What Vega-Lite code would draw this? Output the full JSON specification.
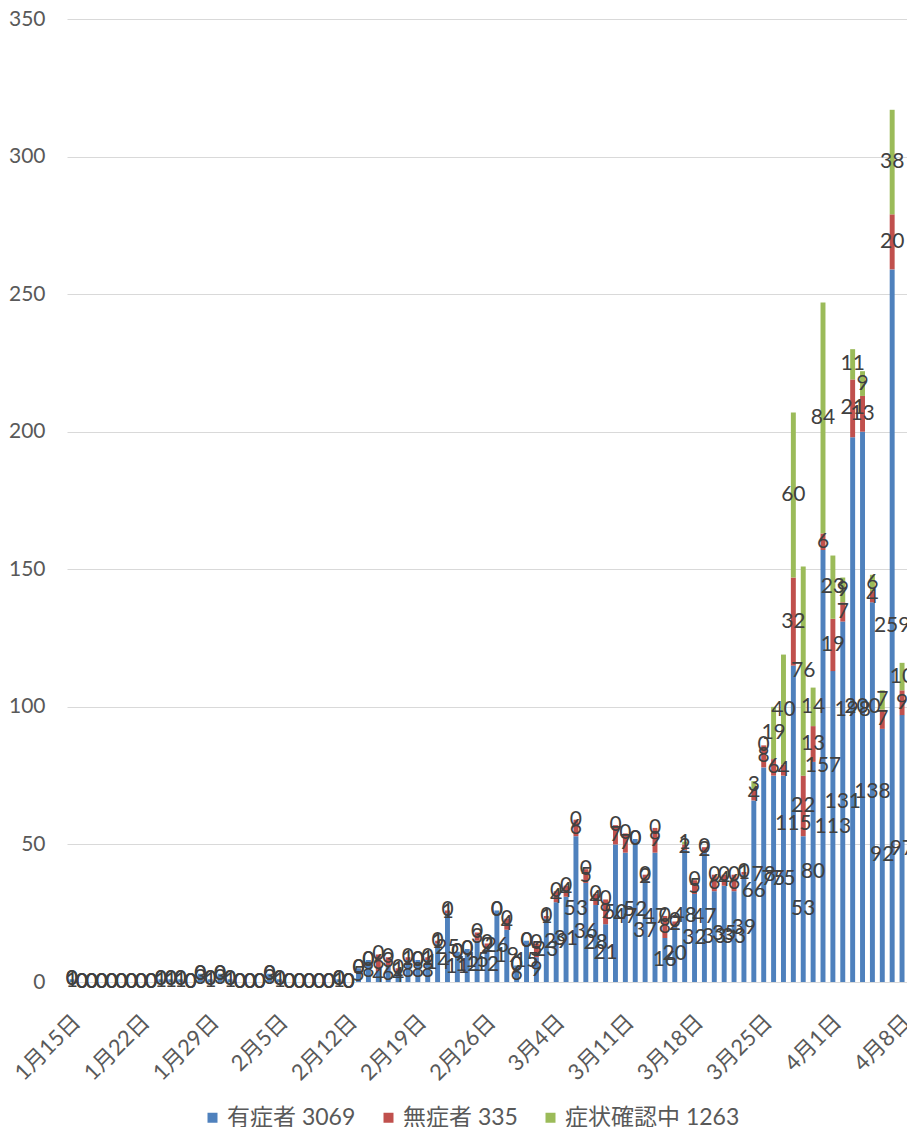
{
"$schema": "https://vega.github.io/schema/vega-lite/v6.json",
"width": 840, "height": 963,
"autosize": {"type": "none"},
"padding": {"left": 67, "top": 19, "right": 0, "bottom": 145},
"background": "white",
"config": {"view": {"stroke": null}, "font": "Lato, 'Noto Sans CJK JP'"},
"data": {"values": [
{"日付":"1月15日","有症者":1,"無症者":0,"症状確認中":0},
{"日付":"1月16日","有症者":0,"無症者":0,"症状確認中":0},
{"日付":"1月17日","有症者":0,"無症者":0,"症状確認中":0},
{"日付":"1月18日","有症者":0,"無症者":0,"症状確認中":0},
{"日付":"1月19日","有症者":0,"無症者":0,"症状確認中":0},
{"日付":"1月20日","有症者":0,"無症者":0,"症状確認中":0},
{"日付":"1月21日","有症者":0,"無症者":0,"症状確認中":0},
{"日付":"1月22日","有症者":0,"無症者":0,"症状確認中":0},
{"日付":"1月23日","有症者":0,"無症者":0,"症状確認中":0},
{"日付":"1月24日","有症者":1,"無症者":0,"症状確認中":0},
{"日付":"1月25日","有症者":1,"無症者":0,"症状確認中":0},
{"日付":"1月26日","有症者":1,"無症者":0,"症状確認中":0},
{"日付":"1月27日","有症者":0,"無症者":0,"症状確認中":0},
{"日付":"1月28日","有症者":3,"無症者":0,"症状確認中":0},
{"日付":"1月29日","有症者":1,"無症者":0,"症状確認中":0},
{"日付":"1月30日","有症者":3,"無症者":0,"症状確認中":0},
{"日付":"1月31日","有症者":1,"無症者":0,"症状確認中":0},
{"日付":"2月1日","有症者":0,"無症者":0,"症状確認中":0},
{"日付":"2月2日","有症者":0,"無症者":0,"症状確認中":0},
{"日付":"2月3日","有症者":0,"無症者":0,"症状確認中":0},
{"日付":"2月4日","有症者":3,"無症者":0,"症状確認中":0},
{"日付":"2月5日","有症者":1,"無症者":0,"症状確認中":0},
{"日付":"2月6日","有症者":0,"無症者":0,"症状確認中":0},
{"日付":"2月7日","有症者":0,"無症者":0,"症状確認中":0},
{"日付":"2月8日","有症者":0,"無症者":0,"症状確認中":0},
{"日付":"2月9日","有症者":0,"無症者":0,"症状確認中":0},
{"日付":"2月10日","有症者":0,"無症者":0,"症状確認中":0},
{"日付":"2月11日","有症者":1,"無症者":0,"症状確認中":0},
{"日付":"2月12日","有症者":0,"無症者":0,"症状確認中":0},
{"日付":"2月13日","有症者":5,"無症者":0,"症状確認中":0},
{"日付":"2月14日","有症者":8,"無症者":0,"症状確認中":0},
{"日付":"2月15日","有症者":4,"無症者":6,"症状確認中":0},
{"日付":"2月16日","有症者":6,"無症者":3,"症状確認中":0},
{"日付":"2月17日","有症者":4,"無症者":1,"症状確認中":0},
{"日付":"2月18日","有症者":8,"無症者":1,"症状確認中":0},
{"日付":"2月19日","有症者":8,"無症者":0,"症状確認中":0},
{"日付":"2月20日","有症者":8,"無症者":1,"症状確認中":0},
{"日付":"2月21日","有症者":14,"無症者":1,"症状確認中":0},
{"日付":"2月22日","有症者":25,"無症者":1,"症状確認中":0},
{"日付":"2月23日","有症者":11,"無症者":0,"症状確認中":0},
{"日付":"2月24日","有症者":12,"無症者":0,"症状確認中":0},
{"日付":"2月25日","有症者":15,"無症者":3,"症状確認中":0},
{"日付":"2月26日","有症者":12,"無症者":2,"症状確認中":0},
{"日付":"2月27日","有症者":26,"無症者":0,"症状確認中":0},
{"日付":"2月28日","有症者":19,"無症者":4,"症状確認中":0},
{"日付":"2月29日","有症者":6,"無症者":0,"症状確認中":0},
{"日付":"3月1日","有症者":15,"無症者":0,"症状確認中":0},
{"日付":"3月2日","有症者":9,"無症者":5,"症状確認中":0},
{"日付":"3月3日","有症者":23,"無症者":1,"症状確認中":0},
{"日付":"3月4日","有症者":29,"無症者":4,"症状確認中":0},
{"日付":"3月5日","有症者":31,"無症者":4,"症状確認中":0},
{"日付":"3月6日","有症者":53,"無症者":6,"症状確認中":0},
{"日付":"3月7日","有症者":36,"無症者":5,"症状確認中":0},
{"日付":"3月8日","有症者":28,"無症者":4,"症状確認中":0},
{"日付":"3月9日","有症者":21,"無症者":9,"症状確認中":0},
{"日付":"3月10日","有症者":50,"無症者":7,"症状確認中":0},
{"日付":"3月11日","有症者":47,"無症者":7,"症状確認中":0},
{"日付":"3月12日","有症者":52,"無症者":0,"症状確認中":0},
{"日付":"3月13日","有症者":37,"無症者":2,"症状確認中":0},
{"日付":"3月14日","有症者":47,"無症者":9,"症状確認中":0},
{"日付":"3月15日","有症者":16,"無症者":8,"症状確認中":0},
{"日付":"3月16日","有症者":20,"無症者":2,"症状確認中":0},
{"日付":"3月17日","有症者":48,"無症者":2,"症状確認中":1},
{"日付":"3月18日","有症者":32,"無症者":5,"症状確認中":0},
{"日付":"3月19日","有症者":47,"無症者":2,"症状確認中":0},
{"日付":"3月20日","有症者":33,"無症者":6,"症状確認中":0},
{"日付":"3月21日","有症者":35,"無症者":4,"症状確認中":0},
{"日付":"3月22日","有症者":33,"無症者":6,"症状確認中":0},
{"日付":"3月23日","有症者":39,"無症者":1,"症状確認中":0},
{"日付":"3月24日","有症者":66,"無症者":4,"症状確認中":3},
{"日付":"3月25日","有症者":78,"無症者":8,"症状確認中":0},
{"日付":"3月26日","有症者":75,"無症者":6,"症状確認中":19},
{"日付":"3月27日","有症者":75,"無症者":4,"症状確認中":40},
{"日付":"3月28日","有症者":115,"無症者":32,"症状確認中":60},
{"日付":"3月29日","有症者":53,"無症者":22,"症状確認中":76},
{"日付":"3月30日","有症者":80,"無症者":13,"症状確認中":14},
{"日付":"3月31日","有症者":157,"無症者":6,"症状確認中":84},
{"日付":"4月1日","有症者":113,"無症者":19,"症状確認中":23},
{"日付":"4月2日","有症者":131,"無症者":7,"症状確認中":9},
{"日付":"4月3日","有症者":198,"無症者":21,"症状確認中":11},
{"日付":"4月4日","有症者":200,"無症者":13,"症状確認中":9},
{"日付":"4月5日","有症者":138,"無症者":4,"症状確認中":6},
{"日付":"4月6日","有症者":92,"無症者":7,"症状確認中":7},
{"日付":"4月7日","有症者":259,"無症者":20,"症状確認中":38},
{"日付":"4月8日","有症者":97,"無症者":9,"症状確認中":10}
]},
"transform": [{"fold": ["有症者", "無症者", "症状確認中"], "as": ["種別", "人数"]}],
"encoding": {
  "x": {"field": "日付", "type": "ordinal", "sort": null,
        "scale": {"paddingInner": 0.5, "paddingOuter": 0.25},
        "axis": {"title": null, "values": ["1月15日","1月22日","1月29日","2月5日","2月12日","2月19日","2月26日","3月4日","3月11日","3月18日","3月25日","4月1日","4月8日"],
                 "labelAngle": -45, "labelAlign": "right", "labelBaseline": "middle", "labelPadding": 36, "labelOffset": 5,
                 "labelFontSize": 22, "labelColor": "#595959", "ticks": false, "domainColor": "#d9d9d9", "domainWidth": 1}}
},
"layer": [
  {"mark": {"type": "bar"},
   "encoding": {
     "y": {"field": "人数", "type": "quantitative", "stack": "zero",
           "scale": {"domain": [0, 350], "nice": false},
           "axis": {"title": null, "values": [0,50,100,150,200,250,300,350], "domain": false, "ticks": false,
                    "gridColor": "#d9d9d9", "gridWidth": 1, "labelFontSize": 21, "labelColor": "#595959", "labelPadding": 22}},
     "order": {"field": "種別", "type": "nominal", "sort": "ascending"},
     "color": {"field": "種別", "type": "nominal",
               "scale": {"domain": ["有症者", "無症者", "症状確認中"], "range": ["#4f81bd", "#c0504d", "#9bbb59"]},
               "legend": {"title": null, "orient": "none", "legendX": 134, "legendY": 1087, "direction": "horizontal", "padding": 0,
                          "symbolType": "square", "symbolSize": 100, "symbolStrokeWidth": 0, "labelFontSize": 23, "labelLimit": 0,
                          "labelOffset": 3, "labelColor": "#595959", "columnPadding": 21,
                          "labelExpr": "datum.label == '有症者' ? '有症者 3069' : datum.label == '無症者' ? '無症者 335' : '症状確認中 1263'"}}
   }},
  {"mark": {"type": "text", "fontSize": 21, "color": "#404040"},
   "encoding": {
     "y": {"field": "人数", "type": "quantitative", "stack": "zero", "bandPosition": 0.5},
     "order": {"field": "種別", "type": "nominal", "sort": "ascending"},
     "detail": {"field": "種別"},
     "text": {"field": "人数", "type": "quantitative"}
   }}
]
}
